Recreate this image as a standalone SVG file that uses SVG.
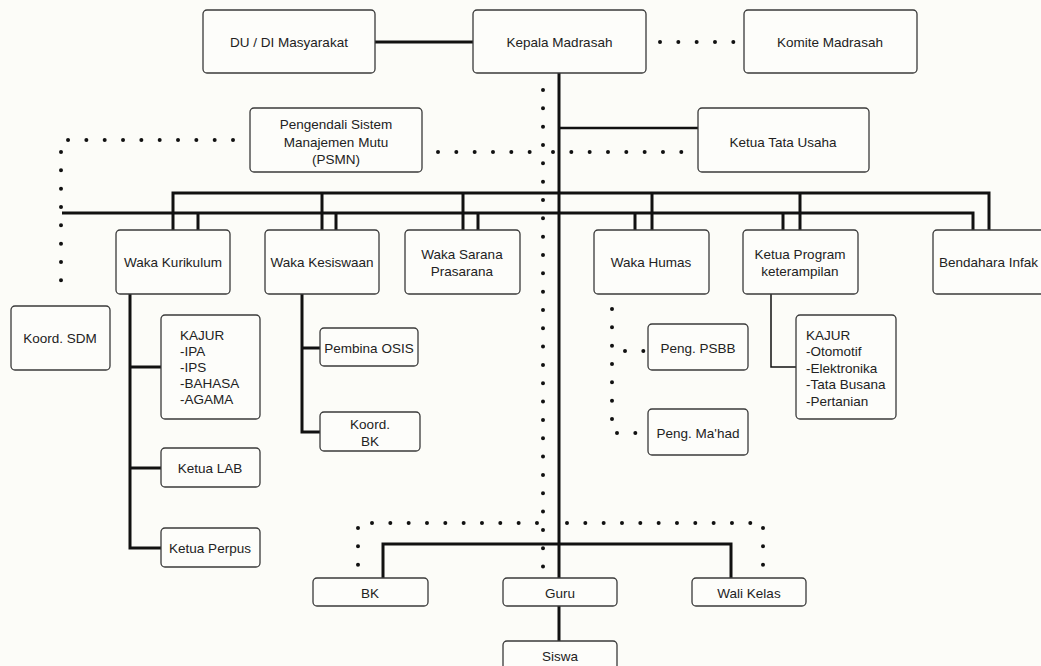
<svg xmlns="http://www.w3.org/2000/svg" width="1041" height="666" viewBox="0 0 1041 666">
<style>
.bg{fill:#fcfcf8}
.box{fill:#fdfdfa;stroke:#3a3a3a;stroke-width:1.3}
.t{font-family:"Liberation Sans",Arial,sans-serif;font-size:13.5px;fill:#222;text-anchor:middle;dominant-baseline:central}
.tl{text-anchor:start}
.th{fill:none;stroke:#111;stroke-width:3}
.tn{fill:none;stroke:#111;stroke-width:1.5}
.dot{fill:none;stroke:#111;stroke-width:4;stroke-linecap:round;stroke-dasharray:0 18.33}
</style>
<rect class="bg" x="0" y="0" width="1041" height="666"/>
<g id="connectors">
<path class="th" d="M375 42H473"/>
<path class="th" d="M559 73V641"/>
<path class="th" d="M559 128H698" style="stroke-width:2.5"/>
<path class="th" d="M173 230V193H989V230M322 193V230M463 193V230M652 193V230M800 193V230"/>
<path class="th" d="M62 213H973V230M198 213V230M336 213V230M478 213V230M635 213V230M783 213V230"/>
<path class="th" d="M130 294V548H161M130 367H161M130 468H161"/>
<path class="th" d="M302 294V432H320M302 348H320"/>
<path class="th" d="M383 578V544H731V578"/>
<path class="tn" d="M771 294V367H796"/>
<path class="dot" d="M660 42H734"/>
<path class="dot" d="M233 140H68"/>
<path class="dot" d="M61 152V298"/>
<path class="dot" d="M438 152H531"/>
<path class="dot" d="M553 152H682"/>
<path class="dot" d="M543 90V567"/>
<path class="dot" d="M372 523H538"/>
<path class="dot" d="M567 523H751"/>
<path class="dot" d="M358 528V566"/>
<path class="dot" d="M763 528V567"/>
<path class="dot" d="M612 309V420"/>
<path class="dot" d="M625 351H644"/>
<path class="dot" d="M617 433H637"/>
</g>
<g id="du"><rect class="box" x="203" y="10" width="172" height="63" rx="4"/><text class="t" x="289" y="42">DU / DI Masyarakat</text></g>
<g id="kepala"><rect class="box" x="473" y="10" width="173" height="63" rx="4"/><text class="t" x="559.5" y="42">Kepala Madrasah</text></g>
<g id="komite"><rect class="box" x="744" y="10" width="173" height="63" rx="4"/><text class="t" x="830" y="42">Komite Madrasah</text></g>
<g id="psmn"><rect class="box" x="250" y="108" width="172" height="64" rx="4"/><text class="t" x="336" y="124">Pengendali Sistem</text><text class="t" x="336" y="142">Manajemen Mutu</text><text class="t" x="336" y="159">(PSMN)</text></g>
<g id="tatausaha"><rect class="box" x="698" y="108" width="171" height="64" rx="4"/><text class="t" x="783" y="142">Ketua Tata Usaha</text></g>
<g id="kurikulum"><rect class="box" x="116" y="230" width="114" height="64" rx="4"/><text class="t" x="173" y="262">Waka Kurikulum</text></g>
<g id="kesiswaan"><rect class="box" x="265" y="230" width="114" height="64" rx="4"/><text class="t" x="322" y="262">Waka Kesiswaan</text></g>
<g id="sarana"><rect class="box" x="405" y="230" width="115" height="64" rx="4"/><text class="t" x="462" y="254">Waka Sarana</text><text class="t" x="462" y="271">Prasarana</text></g>
<g id="humas"><rect class="box" x="594" y="230" width="115" height="64" rx="4"/><text class="t" x="651" y="262">Waka Humas</text></g>
<g id="program"><rect class="box" x="743" y="230" width="115" height="64" rx="4"/><text class="t" x="800" y="254">Ketua Program</text><text class="t" x="800" y="271">keterampilan</text></g>
<g id="bendahara"><rect class="box" x="933" y="230" width="115" height="64" rx="4"/><text class="t tl" x="939" y="262">Bendahara Infak</text></g>
<g id="sdm"><rect class="box" x="11" y="306" width="99" height="64" rx="4"/><text class="t" x="60" y="338">Koord. SDM</text></g>
<g id="kajur1"><rect class="box" x="161" y="315" width="99" height="104" rx="4"/><text class="t tl" x="180" y="335">KAJUR</text><text class="t tl" x="180" y="351">-IPA</text><text class="t tl" x="180" y="367">-IPS</text><text class="t tl" x="180" y="383">-BAHASA</text><text class="t tl" x="180" y="399">-AGAMA</text></g>
<g id="lab"><rect class="box" x="161" y="448" width="99" height="39" rx="4"/><text class="t" x="210" y="468">Ketua LAB</text></g>
<g id="perpus"><rect class="box" x="161" y="528" width="99" height="39" rx="4"/><text class="t" x="210" y="548">Ketua Perpus</text></g>
<g id="osis"><rect class="box" x="320" y="328" width="98" height="38" rx="4"/><text class="t" x="369" y="348">Pembina OSIS</text></g>
<g id="koordbk"><rect class="box" x="320" y="412" width="100" height="39" rx="4"/><text class="t" x="370" y="424">Koord.</text><text class="t" x="370" y="441">BK</text></g>
<g id="psbb"><rect class="box" x="648" y="324" width="100" height="46" rx="4"/><text class="t" x="698" y="348">Peng. PSBB</text></g>
<g id="mahad"><rect class="box" x="648" y="409" width="100" height="46" rx="4"/><text class="t" x="698" y="433">Peng. Ma'had</text></g>
<g id="kajur2"><rect class="box" x="796" y="315" width="100" height="104" rx="4"/><text class="t tl" x="806" y="335">KAJUR</text><text class="t tl" x="806" y="351.5">-Otomotif</text><text class="t tl" x="806" y="368">-Elektronika</text><text class="t tl" x="806" y="384.5">-Tata Busana</text><text class="t tl" x="806" y="401">-Pertanian</text></g>
<g id="bk"><rect class="box" x="313" y="578" width="115" height="28" rx="4"/><text class="t" x="370" y="593">BK</text></g>
<g id="guru"><rect class="box" x="503" y="578" width="114" height="28" rx="4"/><text class="t" x="560" y="593">Guru</text></g>
<g id="walikelas"><rect class="box" x="692" y="578" width="114" height="28" rx="4"/><text class="t" x="749" y="593">Wali Kelas</text></g>
<g id="siswa"><rect class="box" x="503" y="641" width="114" height="30" rx="4"/><text class="t" x="560" y="656">Siswa</text></g>
</svg>
